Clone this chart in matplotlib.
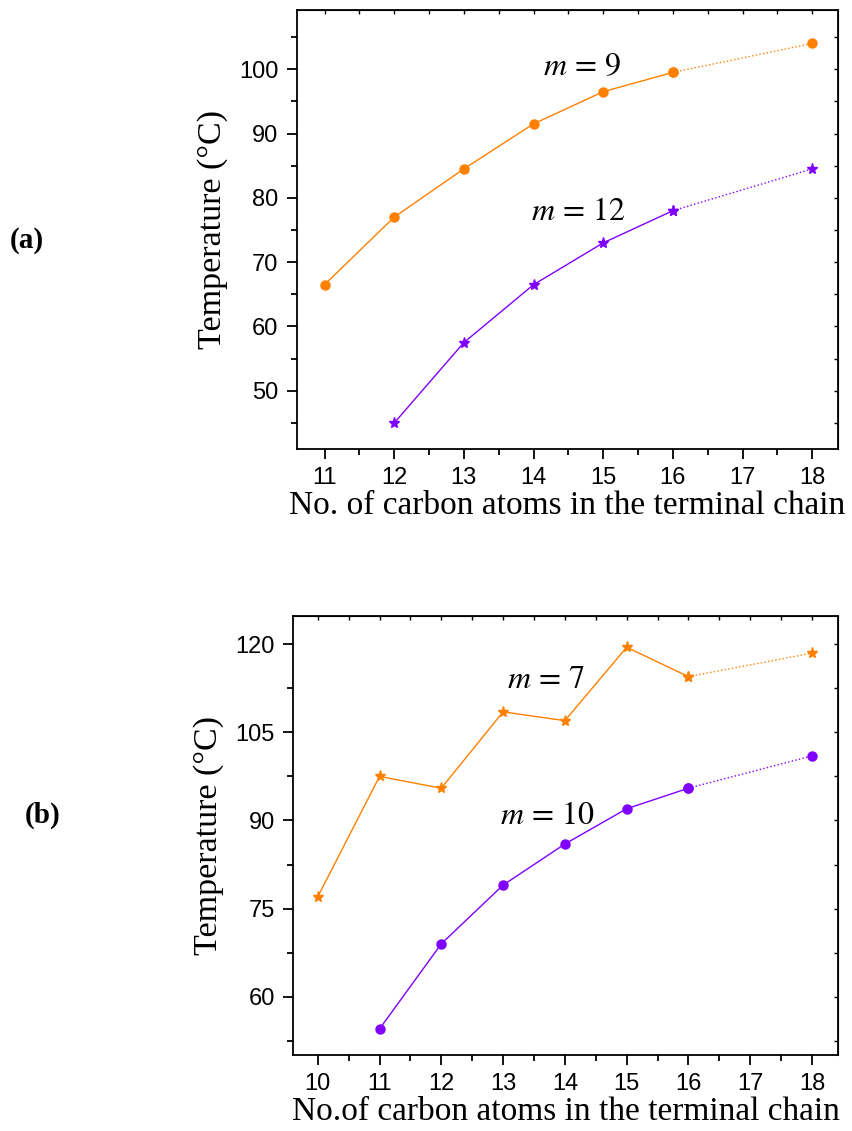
import numpy as np
import matplotlib
matplotlib.use("Agg")
import matplotlib.pyplot as plt
from matplotlib.ticker import MultipleLocator

plt.rcParams['mathtext.fontset'] = 'stix'

# panel (a)
carbons_m9 = [11, 12, 13, 14, 15, 16, 18]
temp_m9 = [66.5, 77.0, 84.5, 91.5, 96.5, 99.5, 104.0]
carbons_m12 = [12, 13, 14, 15, 16, 18]
temp_m12 = [45.0, 57.5, 66.5, 73.0, 78.0, 84.5]

# panel (b)
carbons_m7 = [10, 11, 12, 13, 14, 15, 16, 18]
temp_m7 = [77.0, 97.5, 95.5, 108.5, 107.0, 119.5, 114.5, 118.5]
carbons_m10 = [11, 12, 13, 14, 15, 16, 18]
temp_m10 = [54.5, 69.0, 79.0, 86.0, 92.0, 95.5, 101.0]

orange = '#ff8000'
purple = '#8000ff'
sans = 'Liberation Sans'
serif = 'Liberation Serif'

fig = plt.figure(figsize=(8.53, 11.31), dpi=100)
axa = fig.add_axes([0.3478, 0.6027, 0.9824 - 0.3478, 0.99116 - 0.6027])
axb = fig.add_axes([0.3435, 0.0672, 0.9824 - 0.3435, 0.4556 - 0.0672])


def series(ax, x, y, color, marker, ms):
    ax.plot(x[:-1], y[:-1], color=color, lw=1, marker=marker, ms=ms, mec=color)
    ax.plot(x[-2:], y[-2:], color=color, lw=1, ls=':', marker=marker, ms=ms, mec=color)


def style(ax, xlabel):
    for s in ax.spines.values():
        s.set_linewidth(1.3)
    ax.xaxis.set_major_locator(MultipleLocator(1))
    ax.xaxis.set_minor_locator(MultipleLocator(0.5))
    ax.tick_params(which='both', direction='out', top=False, right=False, width=1.3)
    ax.tick_params(which='major', length=7, labelsize=17, pad=6)
    ax.tick_params(which='minor', length=4)
    for lab in ax.get_xticklabels() + ax.get_yticklabels():
        lab.set_fontfamily(sans)
    ax.set_xlabel(xlabel, fontsize=24, family=serif, labelpad=1)
    ax.set_ylabel('Temperature (°C)', fontsize=24.5, family=serif, labelpad=8)
    # small inward ticks on the top and right spines
    sec_x = ax.secondary_xaxis('top')
    sec_x.xaxis.set_major_locator(MultipleLocator(0.5))
    sec_x.tick_params(direction='in', length=3, width=1, labeltop=False)
    sec_y = ax.secondary_yaxis('right')
    sec_y.yaxis.set_major_locator(ax.yaxis.get_minor_locator())
    sec_y.tick_params(direction='in', length=3, width=1, labelright=False)


series(axa, carbons_m9, temp_m9, orange, 'o', 6.5)
series(axa, carbons_m12, temp_m12, purple, '*', 8)
axa.set_xlim(10.6, 18.37)
axa.set_ylim(40.9, 109.2)
axa.yaxis.set_major_locator(MultipleLocator(10))
axa.yaxis.set_minor_locator(MultipleLocator(5))
style(axa, 'No. of carbon atoms in the terminal chain')
axa.text(14.13, 99.07, r'$m\,=\,9$', fontsize=23, va='baseline')
axa.text(13.97, 76.5, r'$m\,=\,12$', fontsize=23, va='baseline')

series(axb, carbons_m7, temp_m7, orange, '*', 8)
series(axb, carbons_m10, temp_m10, purple, 'o', 6.5)
axb.set_xlim(9.6, 18.42)
axb.set_ylim(50.07, 124.87)
axb.yaxis.set_major_locator(MultipleLocator(15))
axb.yaxis.set_minor_locator(MultipleLocator(7.5))
style(axb, 'No.of carbon atoms in the terminal chain')
axb.text(13.06, 112.5, r'$m\,=\,7$', fontsize=23, va='baseline')
axb.text(12.95, 89.4, r'$m\,=\,10$', fontsize=23, va='baseline')

fig.text(10 / 853, 1 - 241 / 1131, '(a)', fontsize=21, family=serif, weight='bold', va='center')
fig.text(25 / 853, 1 - 815 / 1131, '(b)', fontsize=21, family=serif, weight='bold', va='center')

fig.savefig('out.png', dpi=100)
